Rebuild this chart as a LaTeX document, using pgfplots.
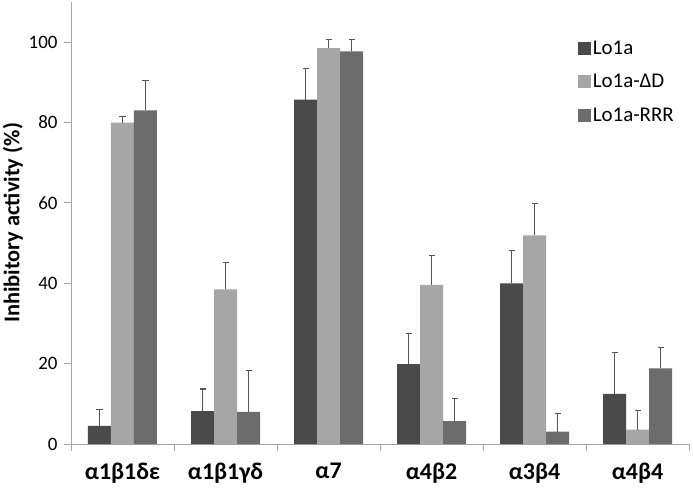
\documentclass[border=0pt]{standalone}
\usepackage{pgfplots}
\pgfplotsset{compat=1.18}
\usepackage{fontspec}
\setmainfont{Carlito}
\definecolor{barA}{RGB}{74,74,74}
\definecolor{barB}{RGB}{166,166,166}
\definecolor{barC}{RGB}{108,108,108}
\definecolor{axisgray}{RGB}{165,165,165}
\definecolor{errgray}{RGB}{85,85,85}

\begin{document}
\begin{tikzpicture}
\begin{axis}[
  scale only axis,
  width=618bp, height=442bp,
  ymin=0, ymax=110,
  xmin=-0.5, xmax=5.5,
  ybar=0pt, bar width=23bp,
  axis x line*=bottom, axis y line*=left,
  axis line style={axisgray, line width=0.9bp},
  tick style={axisgray, line width=0.9bp},
  tick align=outside,
  ytick={0,20,40,60,80,100},
  major tick length=7bp,
  xtick={-0.5,0.5,1.5,2.5,3.5,4.5,5.5},
  xticklabels={},
  extra x ticks={0,1,2,3,4,5},
  extra x tick labels={α1β1δε,α1β1γδ,α7,α4β2,α3β4,α4β4},
  extra x tick style={xtick style={draw=none}},
  xticklabel style={font=\fontsize{24}{26}\selectfont\bfseries, yshift=-8bp},
  yticklabel style={font=\fontsize{19}{21}\selectfont, xshift=-3bp},
  /pgf/number format/assume math mode=true,
  ylabel={Inhibitory activity (\%)},
  ylabel style={font=\fontsize{22.5}{24}\selectfont\bfseries, yshift=-1bp},
  legend style={draw=none, fill=none, at={(0.815,0.922)}, anchor=north west,
    font=\fontsize{21}{24}\selectfont, row sep=14.5bp},
  legend image code/.code={\fill[#1] (-5bp,-6.5bp) rectangle (8bp,6.5bp);},
  legend cell align=left,
  clip=false,
]
\addplot[fill=barA, draw=none,
  error bars/.cd, y dir=plus, y explicit,
  error bar style={errgray, line width=1.1bp},
  error mark options={errgray, rotate=90, mark size=3bp, line width=1.1bp}]
  coordinates {(0,4.5)+-(0,4.0) (1,8.2)+-(0,5.5) (2,85.7)+-(0,7.8)
               (3,19.9)+-(0,7.7) (4,40.0)+-(0,8.1) (5,12.5)+-(0,10.2)};
\addlegendentry{Lo1a}
\addplot[fill=barB, draw=none,
  error bars/.cd, y dir=plus, y explicit,
  error bar style={errgray, line width=1.1bp},
  error mark options={errgray, rotate=90, mark size=3bp, line width=1.1bp}]
  coordinates {(0,80.0)+-(0,1.5) (1,38.5)+-(0,6.7) (2,98.5)+-(0,2.2)
               (3,39.6)+-(0,7.2) (4,51.9)+-(0,7.9) (5,3.6)+-(0,4.7)};
\addlegendentry{Lo1a-ΔD}
\addplot[fill=barC, draw=none,
  error bars/.cd, y dir=plus, y explicit,
  error bar style={errgray, line width=1.1bp},
  error mark options={errgray, rotate=90, mark size=3bp, line width=1.1bp}]
  coordinates {(0,83.0)+-(0,7.5) (1,8.0)+-(0,10.3) (2,97.7)+-(0,3.0)
               (3,5.7)+-(0,5.6) (4,3.1)+-(0,4.5) (5,18.8)+-(0,5.2)};
\addlegendentry{Lo1a-RRR}
\end{axis}
\pgfresetboundingbox
\path ([xshift=-71bp,yshift=-47bp]current axis.south west) rectangle ++(693bp,491bp);
\end{tikzpicture}
\end{document}
